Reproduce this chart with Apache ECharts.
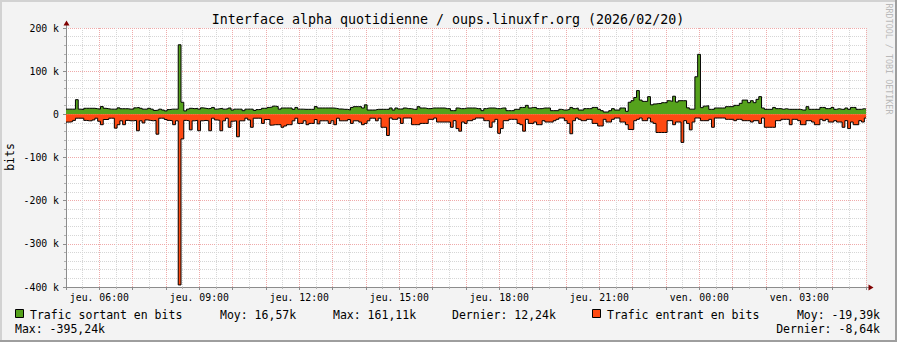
<!DOCTYPE html>
<html><head><meta charset="utf-8">
<script src="https://cdn.jsdelivr.net/npm/echarts@6/dist/echarts.min.js"></script>
<style>html,body{margin:0;padding:0;background:#f3f3f3;}#c{width:897px;height:342px;}</style>
</head><body><div id="c"></div>
<script>
// ---- data (values in k bits), one sample every 5 minutes from jeu. 05:02 ----
const STEP_MIN = 5;
const FIRST_SAMPLE_MIN = 2;      // minutes after 05:00 of first sample
const X_RANGE_MIN = [0, 1440];   // 05:00 jeu. -> 05:00 ven.
const X_TICK_LABELS = ['jeu. 06:00','jeu. 09:00','jeu. 12:00','jeu. 15:00','jeu. 18:00','jeu. 21:00','ven. 00:00','ven. 03:00'];
const X_FIRST_LABEL_MIN = 60, X_LABEL_EVERY_MIN = 180;

const outBits = [
12,12,12,34,12,11,14,14,14,14, 13,12,18,14,13,12,12,12,15,13, 13,13,12,12,15,16,14,12,12,14,
12,9,10,12,10,8,11,12,12,12, 161.1,28,8,12,14,13,14,12,15,14, 13,14,16,12,13,14,12,13,
14.7,10,12,12,12,8.5,12,12,12,9, 11,11.6,14,14,16,17,19,18,12,14.7, 14.7,14.7,14.7,11.6,16,12,12,11.6,11.6,11.6,
11.6,18,14.7,14.7,14.7,14.7,14.7,14.7,13.9,12.4, 12.4,11.6,11.6,10,16,17.8,17.8,17.8,14.7,22, 10,10,10,11.6,11.6,11.6,11.6,11.6,
14.7,10,14.7,12.4,12.4,14.7,13.2,13.2,11.6,11.6, 17.8,14.7,14.7,13.2,13.2,14.7,14.7,14.7,14.7,14.7,
13.2,13.2,8.5,8.5,14.7,13.2,13.2,14.7,14.7,14.7, 14.7,13.2,13.2,8.5,13.2,14.7,14.7,14.7,13.2,13.2,
14.7,14.7,8.5,8.5,8.5,11.6,11.6,16,16,20.8, 14.7,16,16,13.2,13.2,14.7,14.7,14.7,
8.5,8.5,8.5,11.6,10,10,11.6,16,13.2,14.7, 10,10,13.2,13.2,13.2,16,16,11.6,8.5,5.4,
5.4,8.5,13.2,10,10,14.7,14.7,7,28,31.6, 39,55,33,30,30,41,22,24,25,25,
27,27,31.6,30,42,28.5,31.6,31.6,31.6,15, 12,12,87,139,15.5,19,20,
11.6,11.6,14.7,14.7,14.7,14.7,17.8,17.8,17.8,20.8, 20.8,25.5,33,33,27,31.6,27,34.7,41,14.7,
11.6,11.6,11.6,16,13.2,13.2,11.6,13.2,11.6,11.6, 11.6,11.6,11.6,10,10,17.8,11.6,11.6,11.6,11.6,
16,16,13.2,13.2,16,11.6,13.2,11.6,11.6,14.7, 11.6,16,16,11.6,11.6,13.2,12.24
];
const inBits = [
-18,-17,-14,-9,-9,-9,-14,-15,-15,-13, -9,-16,-24,-12,-12,-9,-9,-32,-24,-15, -24,-14,-15,-15,-14,-38,-15,-20,-13,-14,
-15,-14,-46,-9,-9,-12,-14,-15,-24,-15, -395.24,-57,-14,-15,-36,-15,-14,-38,-15,-14, -15,-38,-9,-13,-14,-38,-15,-9,
-30,-16,-15,-52,-15,-15,-9,-13,-30,-9, -9,-9,-21,-12,-12,-25,-24,-24,-24,-30, -27,-24,-24,-15,-9,-21,-21,-15,-24,-21,
-21,-12,-22,-15,-15,-15,-21,-15,-24,-9, -15,-15,-15,-12,-21,-15,-15,-18,-24,-21, -15,-9,-9,-15,-9,-30,-30,-49,
-8.5,-11.6,-11.6,-8.5,-21,-8.5,-8.5,-8.5,-24,-24, -24,-21,-21,-21,-11.6,-11.6,-8.5,-17.8,-17.8,-17.8,
-17.8,-17.8,-30,-14.7,-33,-39,-17.8,-21,-14.7,-14.7, -11.6,-8.5,-8.5,-8.5,-14.7,-14.7,-30,-17.8,-11.6,-44,
-33,-14.7,-14.7,-11.6,-11.6,-11.6,-21,-24,-39,-11.6, -21,-21,-17.8,-24,-24,-14.7,-17.8,-17.8,
-18,-14.7,-11.6,-8.5,-8.5,-14.7,-21,-45,-14.7,-8.5, -11.6,-14.7,-14.7,-11.6,-11.6,-21,-21,-27,-27,-11.6,
-17.8,-17.8,-11.6,-8.5,-8.5,-17.8,-17.8,-24,-35,-35, -14.7,-11.6,-8.5,-14.7,-14.7,-8.5,-17.8,-21,-42,-42,
-42,-42,-14.7,-14.7,-24,-17.8,-17.8,-65,-14.7,-21, -36,-17.8,-8.5,-8.5,-14.7,-14.7,-14.7,
-11.6,-30,-8.5,-8.5,-8.5,-8.5,-11.6,-11.6,-11.6,-14.7, -11.6,-11.6,-14.7,-14.7,-14.7,-17.8,-14.7,-14.7,-21,-8.5,
-30,-30,-30,-30,-14.7,-14.7,-11.6,-11.6,-11.6,-24, -11.6,-11.6,-14.7,-24,-24,-14.7,-14.7,-17.8,-24,-24,
-11.6,-14.7,-11.6,-17.8,-17.8,-14.7,-17.8,-17.8,-30,-14.7, -33,-17.8,-24,-24,-14.7,-17.8,-8.64
];
const Y_MIN = -400, Y_MAX = 200, Y_STEP = 100;

const TITLE = 'Interface alpha quotidienne / oups.linuxfr.org (2026/02/20)';
const LEG_OUT = ['Trafic sortant en bits', 'Moy: 16,57k', 'Max: 161,11k', 'Dernier: 12,24k'];
const LEG_IN = ['Trafic entrant en bits', 'Moy: -19,39k', 'Max: -395,24k', 'Dernier: -8,64k'];

const COL_OUT = '#55a21c', COL_IN = '#ff4a12';
const MONO = '"DejaVu Sans Mono", monospace';

function stepData(vals) {
  const pts = [[X_RANGE_MIN[0], vals[0]]];
  vals.forEach((v, i) => pts.push([FIRST_SAMPLE_MIN + STEP_MIN * i, v]));
  pts.push([X_RANGE_MIN[1], vals[vals.length - 1]]);
  return pts;
}

const chart = echarts.init(document.getElementById('c'), null, {renderer: 'svg'});
const txt = (x, y, s, align, extra) => Object.assign({
  type: 'text', x, y, silent: true,
  style: {text: s, fill: '#000', font: '11.5px ' + MONO, align: align || 'left', verticalAlign: 'middle'}
}, extra || {});

chart.setOption({
  animation: false,
  backgroundColor: '#f3f3f3',
  grid: {left: 66, top: 28, width: 800, height: 259, show: true, backgroundColor: '#fff', borderWidth: 0, containLabel: false},
  xAxis: {
    type: 'value', min: X_RANGE_MIN[0], max: X_RANGE_MIN[1], interval: 60,
    axisLine: {show: true, onZero: false, lineStyle: {color: '#8c8c8c', width: 1}},
    axisTick: {show: true, length: 3, lineStyle: {color: '#8c8c8c'}},
    minorTick: {show: true, splitNumber: 2, length: 2, lineStyle: {color: '#b0b0b0'}},
    axisLabel: {
      fontFamily: MONO, fontSize: 9.8, color: '#000', margin: 5, showMinLabel: true, showMaxLabel: true,
      formatter: v => {
        const k = (v - X_FIRST_LABEL_MIN) / X_LABEL_EVERY_MIN;
        return (Number.isInteger(k) && k >= 0 && k < X_TICK_LABELS.length) ? X_TICK_LABELS[k] : '';
      }
    },
    splitLine: {show: true, lineStyle: {color: '#efaaaa', width: 1, type: [1, 1]}},
    minorSplitLine: {show: true, lineStyle: {color: '#d6d6d6', width: 1, type: [1, 1]}}
  },
  yAxis: {
    type: 'value', min: Y_MIN, max: Y_MAX, interval: Y_STEP,
    axisLine: {show: true, lineStyle: {color: '#8c8c8c', width: 1}},
    axisTick: {show: true, length: 3, lineStyle: {color: '#8c8c8c'}},
    minorTick: {show: true, splitNumber: 5, length: 2, lineStyle: {color: '#b0b0b0'}},
    axisLabel: {fontFamily: MONO, fontSize: 9.8, color: '#000', margin: 7,
      formatter: v => v === 0 ? '0' : v + ' k'},
    splitLine: {show: true, lineStyle: {color: '#efaaaa', width: 1, type: [1, 1]}},
    minorSplitLine: {show: true, lineStyle: {color: '#d6d6d6', width: 1, type: [1, 1]}}
  },
  series: [
    {name: LEG_OUT[0], type: 'line', step: 'end', data: stepData(outBits), symbol: 'none', showSymbol: false,
     lineStyle: {color: '#000', width: 1}, areaStyle: {color: COL_OUT, opacity: 1}, z: 3},
    {name: LEG_IN[0], type: 'line', step: 'end', data: stepData(inBits), symbol: 'none', showSymbol: false,
     lineStyle: {color: '#000', width: 1}, areaStyle: {color: COL_IN, opacity: 1}, z: 3}
  ],
  graphic: [
    // frame
    {type: 'rect', silent: true, shape: {x: 0, y: 0, width: 897, height: 2}, style: {fill: '#d2d2d2'}},
    {type: 'rect', silent: true, shape: {x: 0, y: 0, width: 2, height: 342}, style: {fill: '#d2d2d2'}},
    {type: 'rect', silent: true, shape: {x: 0, y: 340, width: 897, height: 2}, style: {fill: '#9e9e9e'}},
    {type: 'rect', silent: true, shape: {x: 895, y: 0, width: 2, height: 342}, style: {fill: '#9e9e9e'}},
    // axis extensions + arrows
    {type: 'line', silent: true, shape: {x1: 66.5, y1: 28, x2: 66.5, y2: 24}, style: {stroke: '#8c8c8c', lineWidth: 1}},
    {type: 'polygon', silent: true, shape: {points: [[66.5, 20.5], [63.5, 25.5], [69.5, 25.5]]}, style: {fill: '#7f0000'}},
    {type: 'line', silent: true, shape: {x1: 866, y1: 287.5, x2: 869, y2: 287.5}, style: {stroke: '#8c8c8c', lineWidth: 1}},
    {type: 'polygon', silent: true, shape: {points: [[873.5, 287.5], [868.5, 284.5], [868.5, 290.5]]}, style: {fill: '#7f0000'}},
    // title and axis title
    txt(448, 19, TITLE, 'center', {style: {text: TITLE, fill: '#000', font: '13.3px ' + MONO, align: 'center', verticalAlign: 'middle'}}),
    txt(10, 157, 'bits', 'center', {rotation: Math.PI / 2, style: {text: 'bits', fill: '#000', font: '11.5px ' + MONO, align: 'center', verticalAlign: 'middle'}}),
    txt(889, 59, 'RRDTOOL / TOBI OETIKER', 'center', {rotation: -Math.PI / 2, style: {text: 'RRDTOOL / TOBI OETIKER', fill: '#b9b9b9', font: '8.4px ' + MONO, align: 'center', verticalAlign: 'middle'}}),
    // legend
    {type: 'rect', silent: true, shape: {x: 15.5, y: 309.5, width: 8, height: 8}, style: {fill: COL_OUT, stroke: '#000', lineWidth: 1}},
    txt(30, 314.5, LEG_OUT[0]),
    txt(220, 314.5, LEG_OUT[1]),
    txt(333, 314.5, LEG_OUT[2]),
    txt(452, 314.5, LEG_OUT[3]),
    {type: 'rect', silent: true, shape: {x: 592.5, y: 309.5, width: 8, height: 8}, style: {fill: COL_IN, stroke: '#000', lineWidth: 1}},
    txt(607, 314.5, LEG_IN[0]),
    txt(880, 314.5, LEG_IN[1], 'right'),
    txt(15, 328.5, LEG_IN[2]),
    txt(880, 328.5, LEG_IN[3], 'right')
  ]
});
</script></body></html>
